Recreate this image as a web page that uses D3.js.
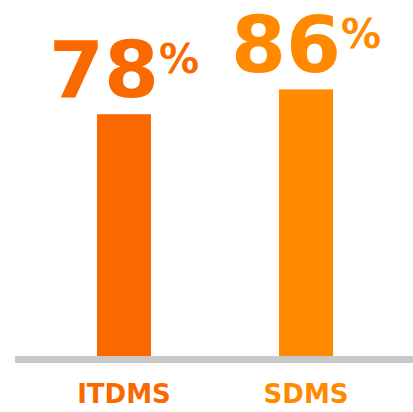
<!DOCTYPE html>
<html lang="en">
  <head>
    <meta charset="UTF-8" />
    <script src="https://d3js.org/d3.v7.min.js"></script>
    <style>
      body { margin: 0; background: #fff; }
    </style>
  </head>
  <body>
    <div id="chart"></div>
    <script>
    // data
    var categories = ["ITDMS", "SDMS"];
    var values = [78, 86];
    var colors = ["#FA6800", "#FF8A00"];

    var width = 413, height = 412;

    var svg = d3.select("#chart")
      .append("svg")
        .attr("width", width)
        .attr("height", height);

    var x = d3.scalePoint()
      .domain(categories)
      .range([16, 414])
      .padding(0.593);

    var y = d3.scaleLinear()
      .domain([0, 100])
      .range([356, 46]);

    var barWidth = 54;

    // bars
    svg.selectAll("rect.bar")
      .data(categories)
      .enter()
      .append("rect")
        .attr("class", "bar")
        .attr("x", function(d) { return x(d) - barWidth / 2; })
        .attr("y", function(d, i) { return y(values[i]); })
        .attr("width", barWidth)
        .attr("height", function(d, i) { return y(0) - y(values[i]); })
        .style("fill", function(d, i) { return colors[i]; });

    // grey baseline
    svg.append("rect")
      .attr("x", 15)
      .attr("y", y(0))
      .attr("width", width - 15)
      .attr("height", 7)
      .style("fill", "#c8c8c8");

    // value labels
    var labels = svg.selectAll("text.value")
      .data(categories)
      .enter()
      .append("text")
        .attr("class", "value")
        .attr("x", function(d) { return x(d); })
        .attr("y", function(d, i) { return y(values[i]) - 17; })
        .attr("text-anchor", "middle")
        .style("font-family", "DejaVu Sans")
        .style("font-weight", "bold")
        .style("fill", function(d, i) { return colors[i]; });

    labels.append("tspan")
      .style("font-size", "79px")
      .text(function(d, i) { return values[i]; });
    labels.append("tspan")
      .attr("dy", -24)
      .style("font-size", "40px")
      .text("%");

    // category labels
    svg.selectAll("text.cat")
      .data(categories)
      .enter()
      .append("text")
        .attr("class", "cat")
        .attr("x", function(d) { return x(d); })
        .attr("y", 403)
        .attr("text-anchor", "middle")
        .style("font-family", "DejaVu Sans")
        .style("font-weight", "bold")
        .style("font-size", "26px")
        .style("fill", function(d, i) { return colors[i]; })
        .text(function(d) { return d; });
    </script>
  </body>
</html>
